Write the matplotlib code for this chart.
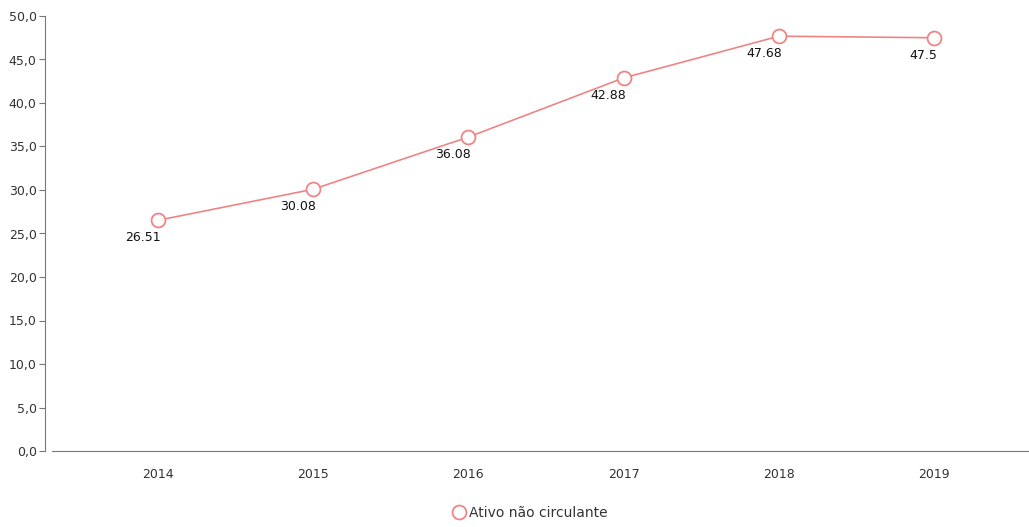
import matplotlib.pyplot as plt
import numpy as np

# data
anos = ["2014", "2015", "2016", "2017", "2018", "2019"]
ativo_nc = [26.51, 30.08, 36.08, 42.88, 47.68, 47.5]
rotulos = ["26.51", "30.08", "36.08", "42.88", "47.68", "47.5"]
yticks = [0, 5, 10, 15, 20, 25, 30, 35, 40, 45, 50]

cor = "#ee8585"

fig = plt.figure(figsize=(10.29, 5.27), dpi=100)
ax = fig.add_axes([52 / 1029, 1 - 451 / 527, 1 - 52 / 1029, (451 - 16) / 527])

x = np.arange(len(anos))
ax.plot(x, ativo_nc, color=cor, lw=1.2, marker="o", markersize=10,
        markerfacecolor="white", markeredgecolor=cor, markeredgewidth=1.3,
        label="Ativo não circulante", zorder=3, clip_on=False)

for xi, yi, txt in zip(x, ativo_nc, rotulos):
    ax.annotate(txt, (xi, yi), xytext=(2, -8), textcoords="offset points",
                ha="right", va="top", fontsize=9, color="#111111")

ax.set_xlim(-0.68, 5.61)
ax.set_ylim(0, 50)
ax.set_xticks(x)
ax.set_xticklabels(anos)
ax.set_yticks(yticks)
ax.set_yticklabels([f"{v:.1f}".replace(".", ",") for v in yticks])

for s in ["top", "right"]:
    ax.spines[s].set_visible(False)
ax.spines["left"].set_position(("outward", 5))
ax.spines["left"].set_color("#777777")
ax.spines["bottom"].set_color("#777777")
ax.tick_params(axis="y", length=4, color="#777777", labelsize=9, labelcolor="#333333", pad=2)
ax.tick_params(axis="x", length=0, labelsize=9, labelcolor="#333333", pad=12)

fig.legend(loc="center", bbox_to_anchor=(0.515, 0.026), frameon=False,
           fontsize=10, handlelength=0.9, handletextpad=0.25,
           labelcolor="#333333")

fig.savefig("out.png", dpi=100)
